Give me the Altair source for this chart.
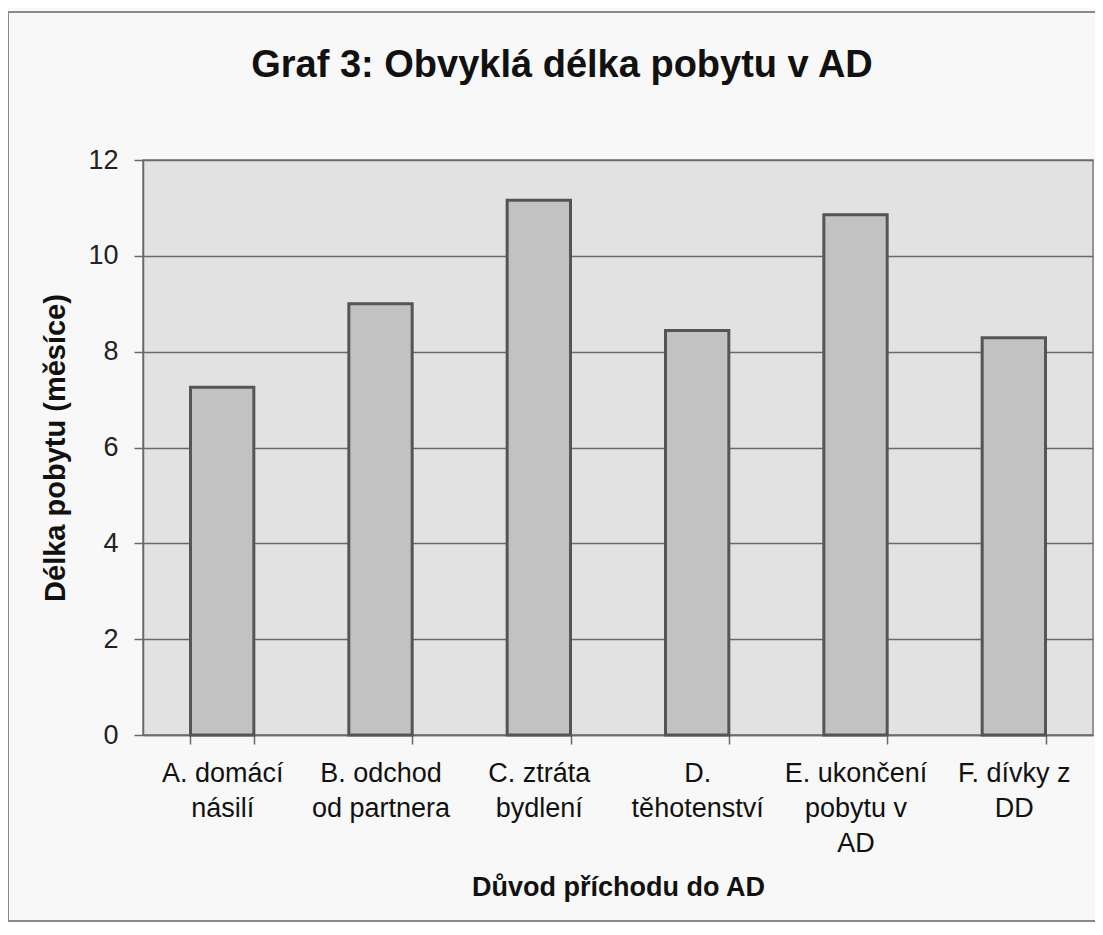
import altair as alt
import pandas as pd

# Data
categories = [
    "A. domácí|násilí",
    "B. odchod|od partnera",
    "C. ztráta|bydlení",
    "D.|těhotenství",
    "E. ukončení|pobytu v|AD",
    "F. dívky z|DD",
]
values = [7.26, 9.0, 11.16, 8.44, 10.86, 8.29]
y_ticks = [0, 2, 4, 6, 8, 10, 12]

title_text = "Graf 3: Obvyklá délka pobytu v AD"
x_title = "Důvod příchodu do AD"
y_title = "Délka pobytu (měsíce)"

FONT = "Liberation Sans"
TEXT = "#111111"
LINE = "#6a6a6a"

df = pd.DataFrame({"duvod": categories, "delka": values})
frame_df = pd.DataFrame({"f": [0]})

W, H = 950, 575

frame = alt.Chart(frame_df).mark_rect(
    filled=False, stroke="#8a8a8a", strokeWidth=2
).encode(
    x=alt.value(-135), x2=alt.value(1000),
    y=alt.value(-148), y2=alt.value(761),
)

bars = alt.Chart(df).mark_bar(
    color="#c2c2c2", stroke="#555555", strokeWidth=3
).encode(
    x=alt.X(
        "duvod:N",
        sort=categories,
        scale=alt.Scale(paddingInner=0.6, paddingOuter=0.3),
        axis=alt.Axis(
            title=x_title,
            titleFont=FONT,
            titleFontSize=27,
            titleFontWeight="bold",
            titleColor=TEXT,
            titleY=160,
            titleBaseline="alphabetic",
            labelAngle=0,
            labelFont=FONT,
            labelFontSize=27,
            labelColor=TEXT,
            labelLineHeight=35,
            labelExpr="split(datum.label, '|')",
            labelPadding=16,
            labelLimit=400,
            tickSize=9,
            tickBand="extent",
            tickColor=LINE,
            tickWidth=1.5,
            domainColor=LINE,
            domainWidth=1.5,
            grid=False,
        ),
    ),
    y=alt.Y(
        "delka:Q",
        scale=alt.Scale(domain=[0, 12], nice=False),
        axis=alt.Axis(
            values=y_ticks,
            title=y_title,
            titleFont=FONT,
            titleFontSize=29,
            titleFontWeight="bold",
            titleColor=TEXT,
            titleX=-88,
            titleBaseline="middle",
            labelFont=FONT,
            labelFontSize=27,
            labelColor="#222222",
            labelPadding=16,
            tickSize=9,
            tickColor=LINE,
            tickWidth=1.5,
            domainColor=LINE,
            domainWidth=1.5,
            grid=True,
            gridColor=LINE,
            gridWidth=1.5,
        ),
    ),
)

chart = alt.layer(frame, bars).properties(
    width=W,
    height=H,
    title=alt.TitleParams(
        title_text,
        font=FONT,
        fontSize=38,
        fontWeight="bold",
        color=TEXT,
        anchor="middle",
        dx=-56,
        dy=124,
        offset=50,
    ),
    autosize=alt.AutoSizeParams(type="none"),
    padding={"left": 135, "top": 152, "right": 2, "bottom": 188},
    background="#f8f8f8",
).configure_view(
    fill="#e2e2e2", stroke="#7a7a7a", strokeWidth=1.5
)

chart.save("out.html", embed_options={"renderer": "svg", "actions": False})
